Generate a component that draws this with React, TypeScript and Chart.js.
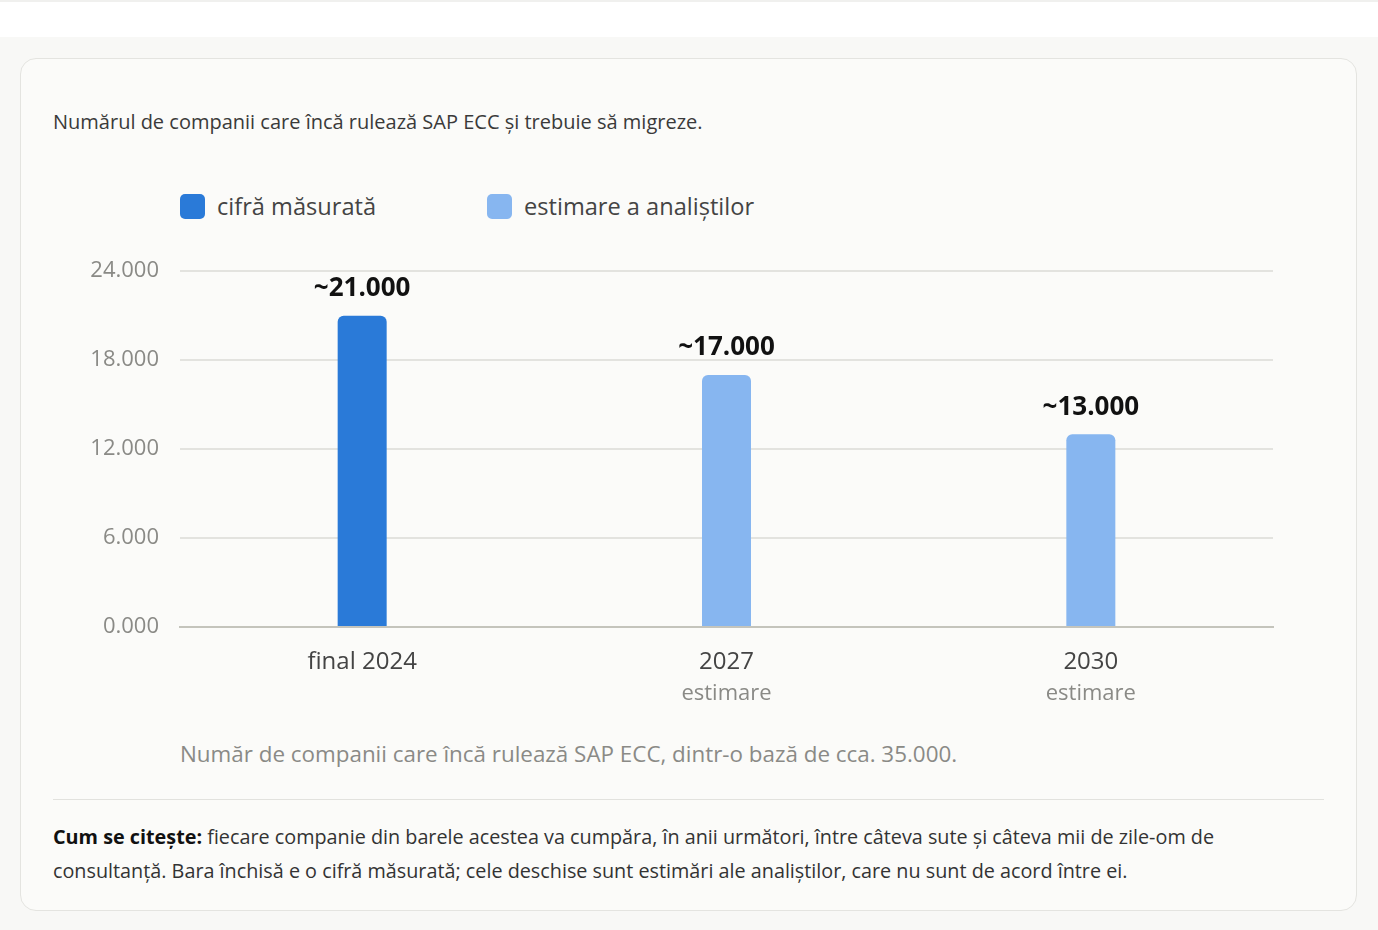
import React, { useEffect, useRef } from "react";
import { Chart, registerables } from "chart.js";

Chart.register(...registerables);

const categories = ["final 2024", "2027", "2030"];
const subLabels = ["", "estimare", "estimare"];
const measured = [21000, null, null];
const estimated = [null, 17000, 13000];
const valueLabels = ["~21.000", "~17.000", "~13.000"];
const yTickValues = [0, 6000, 12000, 18000, 24000];
const yTickLabels = ["0.000", "6.000", "12.000", "18.000", "24.000"];
const seriesNames = ["cifră măsurată", "estimare a analiștilor"];
const seriesColors = ["#2a7ad8", "#87b6f0"];

const FONT = "'Open Sans', 'Noto Sans', sans-serif";

const labelPlugin = {
  id: "valueAndSubLabels",
  afterDatasetsDraw(chart: any) {
    const ctx = chart.ctx;
    const xs = chart.scales.x;
    ctx.save();
    ctx.textAlign = "center";
    chart.data.datasets.forEach((ds: any, di: number) => {
      const meta = chart.getDatasetMeta(di);
      meta.data.forEach((el: any, i: number) => {
        if (ds.data[i] == null) return;
        ctx.font = `700 26px ${FONT}`;
        ctx.fillStyle = "#111111";
        ctx.textBaseline = "middle";
        ctx.fillText(valueLabels[i], el.x, el.y - 27);
      });
    });
    ctx.font = `400 22px ${FONT}`;
    ctx.fillStyle = "#8a8a86";
    ctx.textBaseline = "middle";
    subLabels.forEach((s, i) => {
      if (!s) return;
      ctx.fillText(s, xs.getPixelForValue(i), xs.top + 67);
    });
    ctx.restore();
  },
};

function BarChart() {
  const ref = useRef<HTMLCanvasElement | null>(null);
  useEffect(() => {
    if (!ref.current) return;
    const chart = new Chart(ref.current, {
      type: "bar",
      data: {
        labels: categories,
        datasets: [
          {
            label: seriesNames[0],
            data: measured,
            backgroundColor: seriesColors[0],
            borderRadius: { topLeft: 6, topRight: 6, bottomLeft: 0, bottomRight: 0 },
            borderSkipped: false,
            maxBarThickness: 49,
          },
          {
            label: seriesNames[1],
            data: estimated,
            backgroundColor: seriesColors[1],
            borderRadius: { topLeft: 6, topRight: 6, bottomLeft: 0, bottomRight: 0 },
            borderSkipped: false,
            maxBarThickness: 49,
          },
        ],
      },
      options: {
        animation: false,
        responsive: false,
        devicePixelRatio: 1,
        layout: { padding: { top: 28, right: 50, left: 0, bottom: 0 } },
        plugins: {
          legend: { display: false },
          tooltip: { enabled: false },
        },
        scales: {
          x: {
            stacked: true,
            grid: { display: false, drawTicks: false },
            border: { display: true, color: "#c4c4bc", width: 2 },
            ticks: {
              font: { family: FONT, size: 24 },
              color: "#444444",
              padding: 21,
            },
            afterFit(scale: any) {
              scale.height = 85;
            },
          },
          y: {
            stacked: true,
            min: 0,
            max: 24000,
            afterBuildTicks(scale: any) {
              scale.ticks = yTickValues.map((v) => ({ value: v }));
            },
            grid: { color: "#e3e3df", lineWidth: 2, drawTicks: false },
            border: { display: false },
            ticks: {
              font: { family: FONT, size: 22 },
              color: "#8a8a86",
              padding: 21,
              callback: (v: any) => {
                const i = yTickValues.indexOf(Number(v));
                return i >= 0 ? yTickLabels[i] : "";
              },
            },
            afterFit(scale: any) {
              scale.width = 127;
            },
          },
        },
      },
      plugins: [labelPlugin],
    } as any);
    return () => chart.destroy();
  }, []);
  return <canvas ref={ref} width={1270} height={475} style={{ display: "block", width: 1270, height: 475 }} />;
}

export default function App() {
  return (
    <div
      style={{
        position: "absolute",
        left: 0,
        top: 0,
        width: 1378,
        height: 930,
        background: "#f8f8f6",
        fontFamily: FONT,
        overflow: "hidden",
      }}
    >
      <div style={{ height: 37, background: "#ffffff", borderTop: "2px solid #f0f0ee", boxSizing: "border-box" }} />
      <div
        style={{
          position: "absolute",
          left: 20,
          top: 58,
          width: 1337,
          height: 853,
          boxSizing: "border-box",
          background: "#fbfbf9",
          border: "1px solid #e4e4e0",
          borderRadius: 16,
        }}
      >
        <div style={{ position: "absolute", left: 32, top: 49, fontSize: 20, color: "#3a3a3a", whiteSpace: "nowrap" }}>
          Numărul de companii care încă rulează SAP ECC și trebuie să migreze.
        </div>
        <div style={{ position: "absolute", left: 159, top: 131, display: "flex", alignItems: "center", gap: 111 }}>
          {seriesNames.map((n, i) => (
            <div key={n} style={{ display: "flex", alignItems: "center" }}>
              <span
                style={{
                  display: "inline-block",
                  width: 25,
                  height: 25,
                  borderRadius: 5,
                  background: seriesColors[i],
                  marginRight: 12,
                }}
              />
              <span style={{ fontSize: 23.6, color: "#444444", whiteSpace: "nowrap" }}>{n}</span>
            </div>
          ))}
        </div>
        <div style={{ position: "absolute", left: 32, top: 178 }}>
          <BarChart />
        </div>
        <div style={{ position: "absolute", left: 159, top: 679, fontSize: 22.4, color: "#8a8a86", whiteSpace: "nowrap" }}>
          Număr de companii care încă rulează SAP ECC, dintr-o bază de cca. 35.000.
        </div>
        <div style={{ position: "absolute", left: 32, right: 32, top: 740, borderTop: "1px solid #e2e2de" }} />
        <div
          style={{
            position: "absolute",
            left: 32,
            width: 1220,
            top: 761,
            fontSize: 19.8,
            lineHeight: "34px",
            color: "#333333",
          }}
        >
          <b style={{ color: "#111111" }}>Cum se citește:</b> fiecare companie din barele acestea va cumpăra, în anii următori, între câteva sute și câteva mii de zile-om de consultanță. Bara închisă e o cifră măsurată; cele deschise sunt estimări ale analiștilor, care nu sunt de acord între ei.
        </div>
      </div>
    </div>
  );
}
